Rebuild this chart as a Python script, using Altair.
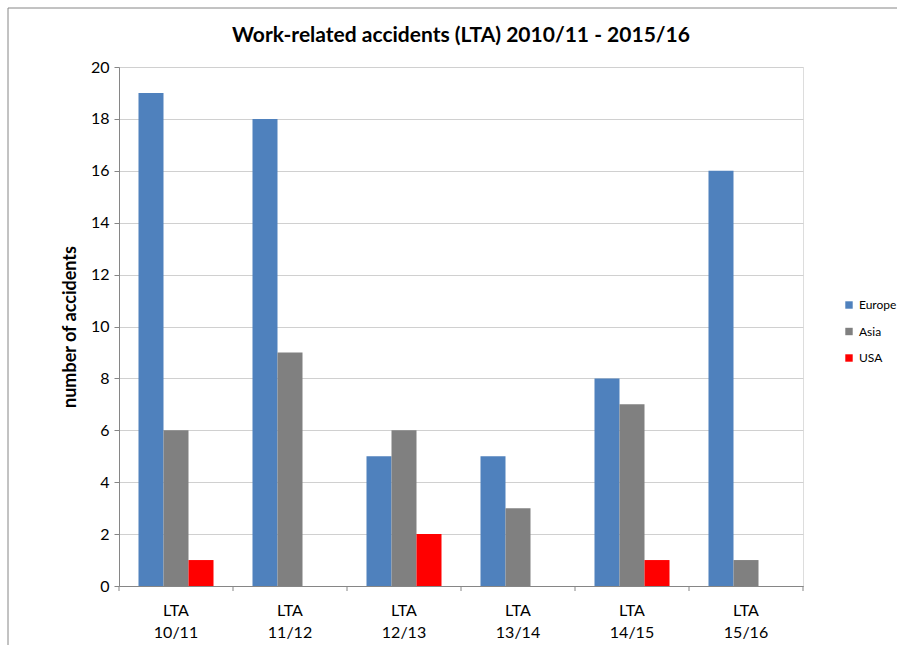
import altair as alt
import pandas as pd

periods = ["LTA 10/11", "LTA 11/12", "LTA 12/13", "LTA 13/14", "LTA 14/15", "LTA 15/16"]
regions = ["Europe", "Asia", "USA"]
europe = [19, 18, 5, 5, 8, 16]
asia = [6, 9, 6, 3, 7, 1]
usa = [1, 0, 2, 0, 1, 0]
colors = ["#4F81BD", "#808080", "#FF0000"]
y_ticks = [0, 2, 4, 6, 8, 10, 12, 14, 16, 18, 20]

rows = []
for i, p in enumerate(periods):
    for r, vals in zip(regions, [europe, asia, usa]):
        rows.append({"period": p, "region": r, "value": vals[i]})
df = pd.DataFrame(rows)
period_df = pd.DataFrame({"period": periods})
last_df = pd.DataFrame({"period": periods[-1:]})

FONT = "Lato"
AXIS_GREY = "#868686"
W, H = 684, 519
P_IN = 0.342
P_OUT = P_IN / 2
xscale = alt.Scale(domain=periods, paddingInner=P_IN, paddingOuter=P_OUT)
gap = P_OUT * W / len(periods)  # pixel distance from group edge to category boundary

bars = alt.Chart(df).mark_bar().encode(
    x=alt.X("period:N", sort=periods, title=None, scale=xscale,
            axis=alt.Axis(labelAngle=0, labelExpr="split(datum.label, ' ')",
                          labelFontSize=16, labelFont=FONT, labelColor="#000000",
                          labelPadding=16, labelLineHeight=22,
                          ticks=False, domainColor=AXIS_GREY, grid=False)),
    xOffset=alt.XOffset("region:N", sort=regions,
                        scale=alt.Scale(paddingInner=0, paddingOuter=0)),
    y=alt.Y("value:Q", title="number of accidents",
            scale=alt.Scale(domain=[0, 20], nice=False),
            axis=alt.Axis(values=y_ticks, labelFontSize=16, labelFont=FONT,
                          labelColor="#000000", labelPadding=5,
                          tickSize=5, tickColor=AXIS_GREY, domainColor=AXIS_GREY,
                          gridColor="#d0d0d0", titleFont=FONT, titleFontSize=18,
                          titleFontWeight="bold", titleColor="#000000",
                          titlePadding=11)),
    color=alt.Color("region:N", sort=regions,
                    scale=alt.Scale(domain=regions, range=colors),
                    legend=alt.Legend(title=None, orient="none", legendX=724, legendY=232,
                                      symbolType="square", symbolSize=55,
                                      symbolStrokeWidth=0,
                                      labelFont=FONT, labelFontSize=12,
                                      labelColor="#000000", rowPadding=14.5)),
)

ticks_start = alt.Chart(period_df).mark_rule(color=AXIS_GREY, strokeWidth=1, xOffset=-gap).encode(
    x=alt.X("period:N", sort=periods, scale=xscale, bandPosition=0),
    y=alt.value(H), y2=alt.value(H + 5),
)
ticks_end = alt.Chart(last_df).mark_rule(color=AXIS_GREY, strokeWidth=1, xOffset=gap).encode(
    x=alt.X("period:N", sort=periods, scale=xscale, bandPosition=1),
    y=alt.value(H), y2=alt.value(H + 5),
)

frame = alt.Chart(alt.Data(values=[{"a": 1}])).mark_rect(
    fill=None, stroke=AXIS_GREY, strokeWidth=1, clip=False
).encode(
    x=alt.value(-111), x2=alt.value(790), y=alt.value(-59), y2=alt.value(590)
)

chart = alt.layer(frame, bars, ticks_start, ticks_end).properties(
    width=W, height=H,
    title=alt.TitleParams("Work-related accidents (LTA) 2010/11 - 2015/16",
                          font=FONT, fontSize=21, fontWeight="bold",
                          color="#000000", anchor="middle", offset=20, dy=58),
    autosize=alt.AutoSizeParams(type="none"),
    padding={"left": 119, "top": 67, "right": 94, "bottom": 59},
).configure_view(stroke=None).configure(background="white")

chart.save("out.html", embed_options={"renderer": "svg", "actions": False})
